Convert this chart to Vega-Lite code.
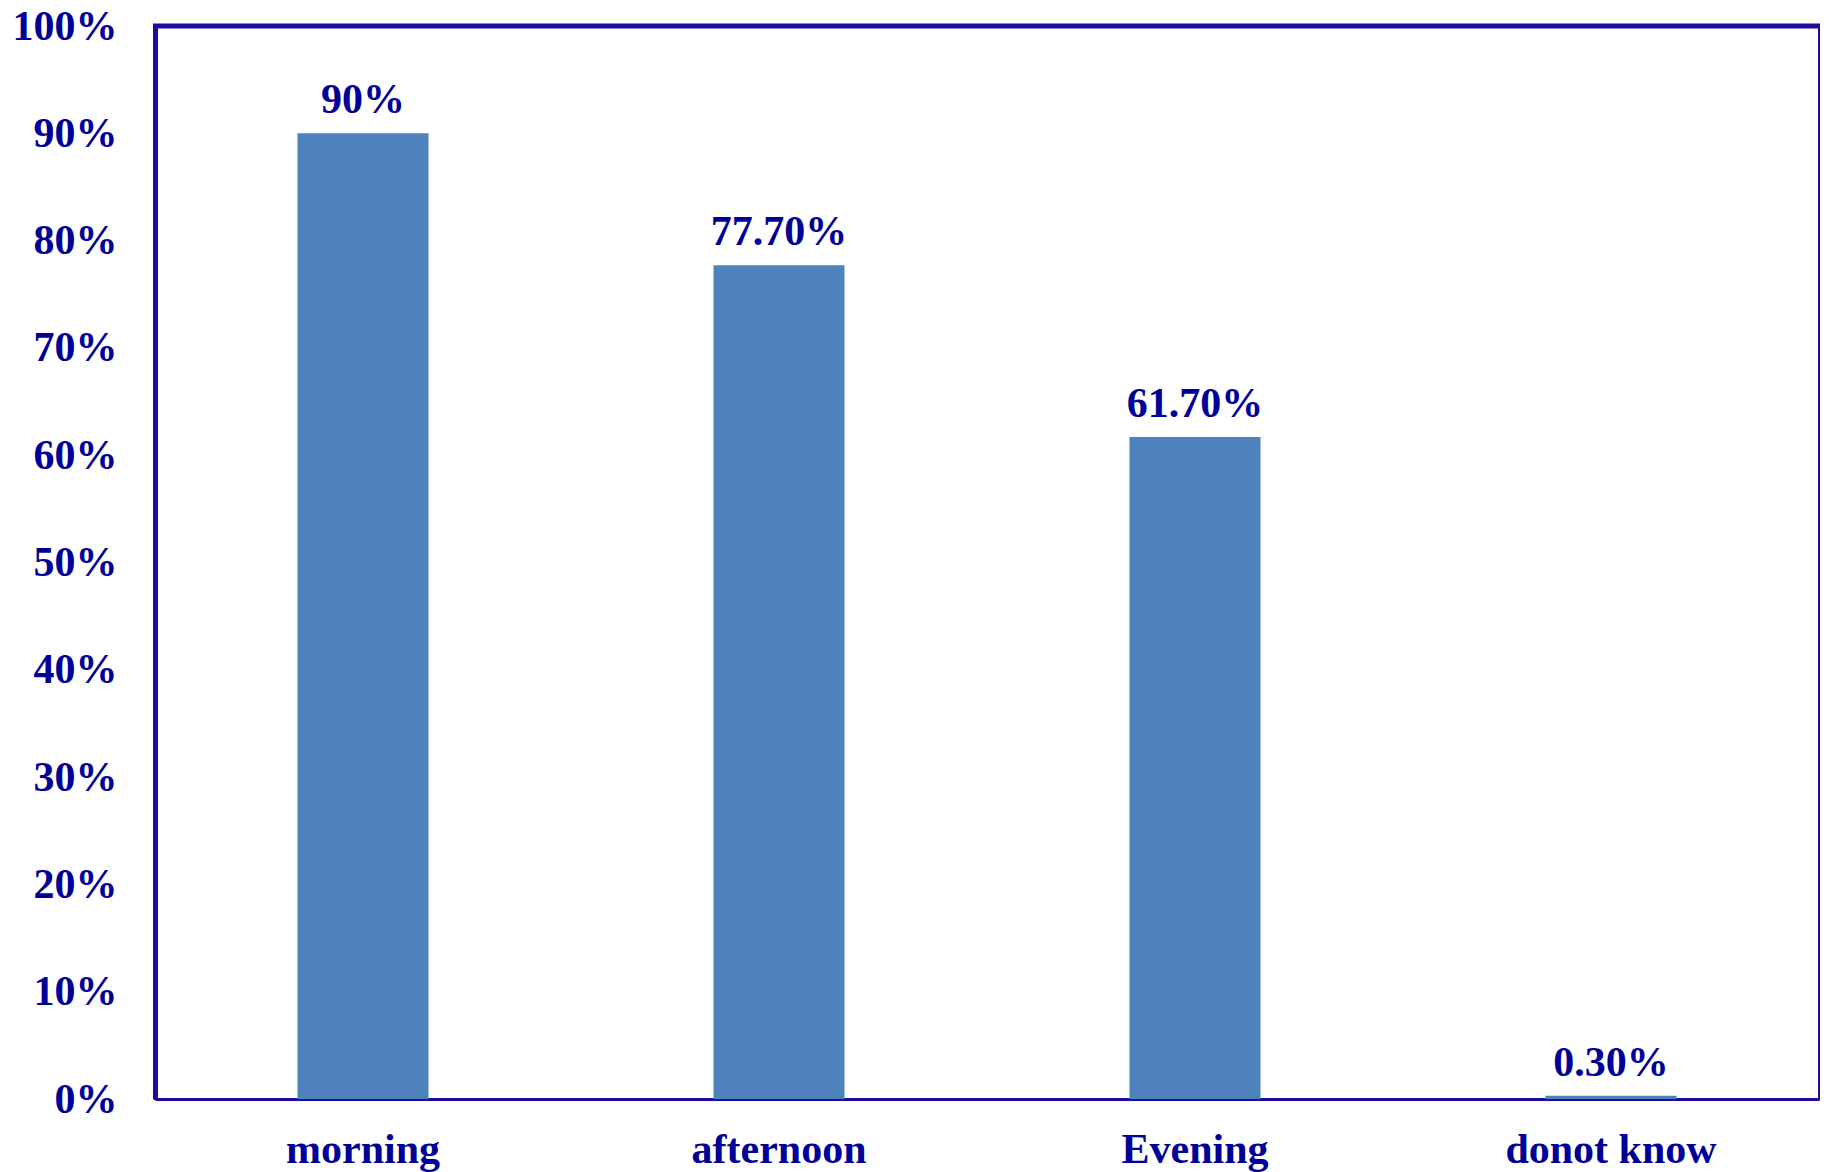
{
  "$schema": "https://vega.github.io/schema/vega-lite/v6.json",
  "width": 1664,
  "height": 1073,
  "autosize": {"type": "none"},
  "padding": {"left": 155, "top": 26, "right": 10, "bottom": 73},
  "background": "white",
  "data": {
    "values": [
      {"time": "morning", "pct": 90, "label": "90%"},
      {"time": "afternoon", "pct": 77.7, "label": "77.70%"},
      {"time": "Evening", "pct": 61.7, "label": "61.70%"},
      {"time": "donot know", "pct": 0.3, "label": "0.30%"}
    ]
  },
  "encoding": {
    "x": {
      "field": "time",
      "type": "nominal",
      "sort": null,
      "title": null,
      "scale": {"paddingInner": 0.685, "paddingOuter": 0.3425},
      "axis": {
        "labelAngle": 0,
        "labelFont": "Liberation Serif",
        "labelFontWeight": "bold",
        "labelFontSize": 42,
        "labelColor": "#000099",
        "labelBaseline": "alphabetic",
        "labelPadding": 63,
        "labelLimit": 0,
        "ticks": false,
        "tickSize": 0,
        "domainColor": "#1C0C9E",
        "domainWidth": 3
      }
    },
    "y": {
      "field": "pct",
      "type": "quantitative",
      "title": null,
      "scale": {"domain": [0, 100], "nice": false},
      "axis": {
        "values": [0, 10, 20, 30, 40, 50, 60, 70, 80, 90, 100],
        "labelExpr": "datum.value + '%'",
        "labelFont": "Liberation Serif",
        "labelFontWeight": "bold",
        "labelFontSize": 42,
        "labelColor": "#000099",
        "labelPadding": 38,
        "ticks": false,
        "tickSize": 0,
        "grid": false,
        "domainColor": "#1C0C9E",
        "domainWidth": 5
      }
    }
  },
  "layer": [
    {"mark": {"type": "bar", "color": "#4F81BD"}},
    {
      "mark": {
        "type": "text",
        "font": "Liberation Serif",
        "fontWeight": "bold",
        "fontSize": 42,
        "color": "#000099",
        "baseline": "alphabetic",
        "dy": -20
      },
      "encoding": {"text": {"field": "label"}}
    },
    {
      "data": {"values": [{"top": 100}]},
      "mark": {"type": "rule", "color": "#1C0C9E", "strokeWidth": 5},
      "encoding": {"y": {"field": "top", "type": "quantitative"}, "x": {"value": -2}, "x2": {"value": 1665}}
    }
  ],
  "config": {
    "view": {"stroke": "#1C0C9E", "strokeWidth": 2}
  }
}
